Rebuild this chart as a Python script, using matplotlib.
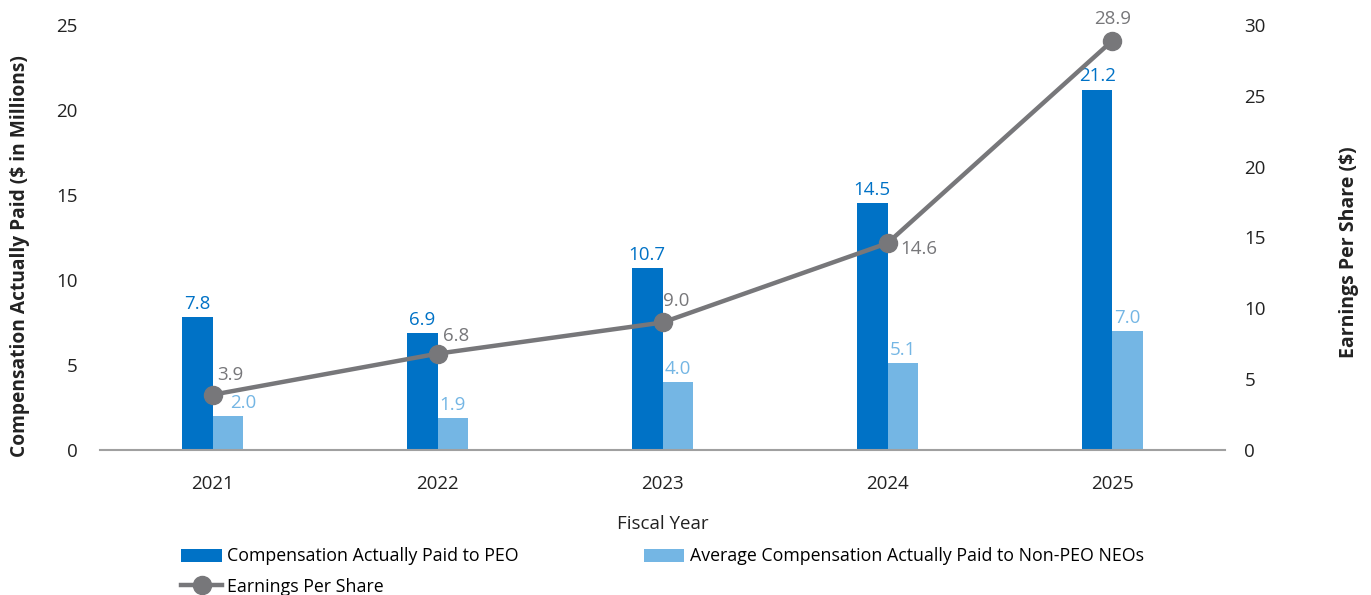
import numpy as np
import matplotlib
matplotlib.use('Agg')
import matplotlib.pyplot as plt

plt.rcParams['font.family'] = ['Open Sans', 'DejaVu Sans']

years = ['2021', '2022', '2023', '2024', '2025']
peo_cap = [7.8, 6.9, 10.7, 14.5, 21.2]
neo_cap = [2.0, 1.9, 4.0, 5.1, 7.0]
eps = [3.9, 6.8, 9.0, 14.6, 28.9]

DARK = '#0072C6'
LIGHT = '#74B6E4'
GRAY = '#77777A'
TEXT = '#222222'

# where each EPS label sits relative to its marker (points)
eps_offsets = [(3, 8), (4, 6), (0, 9), (9, -4), (0, 9)]
eps_align = [('left', 'bottom'), ('left', 'bottom'), ('left', 'bottom'),
             ('left', 'center'), ('center', 'bottom')]
# nudge for light-bar labels that would sit under a marker
neo_dx = [11, 0, 0, 0, 0]

fig = plt.figure(figsize=(13.71, 5.95), dpi=100)
ax = fig.add_axes([0.073, 0.2437, 0.8205, 0.7143])
ax2 = ax.twinx()

x = np.arange(len(years))
w = 0.135
b1 = ax.bar(x - w / 2, peo_cap, w, color=DARK, label='Compensation Actually Paid to PEO', zorder=2)
b2 = ax.bar(x + w / 2, neo_cap, w, color=LIGHT,
            label='Average Compensation Actually Paid to Non-PEO NEOs', zorder=2)

for xi, v in zip(x, peo_cap):
    ax.annotate(f'{v:.1f}', (xi - w / 2, v), xytext=(0, 3), textcoords='offset points',
                ha='center', va='bottom', color=DARK, fontsize=13.5)

ln, = ax2.plot(x, eps, color=GRAY, lw=3.2, marker='o', markersize=13,
               label='Earnings Per Share', zorder=3)
for xi, v, off, (ha, va) in zip(x, eps, eps_offsets, eps_align):
    ax2.annotate(f'{v:.1f}', (xi, v), xytext=off, textcoords='offset points',
                 ha=ha, va=va, color=GRAY, fontsize=13.5)
for xi, v, dx in zip(x, neo_cap, neo_dx):
    ax2.annotate(f'{v:.1f}', (xi + w / 2, v * 30 / 25), xytext=(dx, 3),
                 textcoords='offset points', ha='center', va='bottom',
                 color=LIGHT, fontsize=13.5, zorder=4)

ax.set_xlim(-0.5, len(years) - 0.5)
ax.set_ylim(0, 25)
ax2.set_ylim(0, 30)
ax.set_yticks(range(0, 26, 5))
ax2.set_yticks(range(0, 31, 5))
ax.set_xticks(x)
ax.set_xticklabels(years)

for a in (ax, ax2):
    for s in a.spines.values():
        s.set_visible(False)
    a.tick_params(length=0, labelsize=13.5, colors=TEXT)
ax.spines['bottom'].set_visible(True)
ax.spines['bottom'].set_color('#A0A0A0')
ax.spines['bottom'].set_linewidth(1.5)
ax.tick_params(axis='y', pad=16)
ax.tick_params(axis='x', pad=18)
ax2.tick_params(axis='y', pad=14)

ax.set_xlabel('Fiscal Year', fontsize=13.5, color=TEXT, labelpad=16)
ax.set_ylabel('Compensation Actually Paid ($ in Millions)', fontsize=13.8,
              fontweight='bold', color=TEXT)
ax.yaxis.set_label_coords(-0.062, 0.456)
ax2.set_ylabel('Earnings Per Share ($)', fontsize=14, fontweight='bold', color=TEXT)
ax2.yaxis.set_label_coords(1.101, 0.466)

ax.set_zorder(ax2.get_zorder() - 1)
ax.patch.set_visible(False)

fig.legend(handles=[b1, ln, b2], ncol=2, loc='upper left',
           bbox_to_anchor=(0.127, 0.092), frameon=False, fontsize=12.8,
           handlelength=2.3, handleheight=0.75, handletextpad=0.3,
           columnspacing=7.0, labelspacing=0.7, borderaxespad=0)

fig.savefig('out.png', dpi=100)
